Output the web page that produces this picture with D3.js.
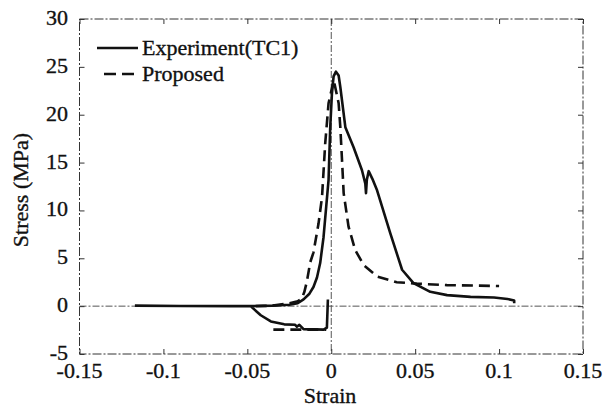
<!DOCTYPE html>
<html>
<head>
<meta charset="utf-8">
<script src="https://d3js.org/d3.v7.min.js"></script>
<style>
body { margin: 0; background: #fff; }
text { font-family: "Liberation Serif", "Times New Roman", serif; fill: #111; stroke: #111; stroke-width: 0.35px; }
</style>
</head>
<body>
<div id="chart"></div>
<script>
//Width and height
var width = 605;
var height = 409;

//Tick values
var xTicks = [-0.15, -0.1, -0.05, 0, 0.05, 0.1, 0.15];
var xTickLabels = ["-0.15", "-0.1", "-0.05", "0", "0.05", "0.1", "0.15"];
var yTicks = [-5, 0, 5, 10, 15, 20, 25, 30];

// Experiment(TC1) - null splits the loading branch from the negative branch
var expStrain = [-0.117, -0.09, -0.06, -0.048, -0.035, -0.025, -0.02, -0.0165, -0.013, -0.0106, -0.0085, -0.0066,
    -0.0046, -0.003, -0.0016, -0.0006, 0.0004, 0.0014, 0.0028, 0.0044, 0.0054, 0.0084, 0.0133, 0.0183,
    0.0203, 0.0207, 0.0212, 0.0223, 0.0245, 0.0273, 0.0352, 0.0422, 0.049, 0.059, 0.069, 0.083, 0.097,
    0.105, 0.109, 0.109,
    null,
    -0.048, -0.042, -0.036, -0.028, -0.0215, -0.0205, -0.019, -0.0165, -0.0046, -0.0026, -0.002];
var expStress = [0.05, 0.02, 0.0, 0.0, 0.05, 0.15, 0.3, 0.7, 1.3, 2.0, 3.0, 4.5,
    7.2, 10.4, 13.2, 18.7, 22.2, 24.0, 24.5, 24.1, 22.9, 18.7, 16.6, 14.2,
    12.8, 11.8, 13.2, 14.1, 13.3, 12.1, 7.6, 3.8, 2.4, 1.5, 1.15, 0.97, 0.9,
    0.75, 0.6, 0.3,
    null,
    0.0, -0.95, -1.6, -1.9, -1.95, -2.15, -1.95, -2.4, -2.45, -2.25, 0.7];

// Proposed model
var propStrain = [-0.045, -0.035, -0.025, -0.02, -0.0175, -0.016, -0.0145, -0.0125, -0.0106, -0.0076,
    -0.0055, -0.0036, -0.0016, 0.0015, 0.0044, 0.0054, 0.0064, 0.0074, 0.0103, 0.0143, 0.0193,
    0.0273, 0.039, 0.051, 0.069, 0.1,
    null,
    -0.0345, -0.003];
var propStress = [0.0, 0.05, 0.3, 0.5, 0.8, 1.5, 2.6, 4.6, 5.6, 8.6,
    11.4, 17.0, 21.2, 23.6, 21.2, 18.7, 15.3, 11.8, 8.3, 5.85, 4.3,
    3.1, 2.5, 2.35, 2.2, 2.1,
    null,
    -2.45, -2.45];

var legendNames = ["Experiment(TC1)", "Proposed"];

//Scales
var x = d3.scaleLinear().domain([-0.15, 0.15]).range([79.5, 583]);
var y = d3.scaleLinear().domain([-5, 30]).range([354, 19]);

var svg = d3.select("#chart")
    .append("svg")
    .attr("width", width)
    .attr("height", height);

function toPoints(xs, ys) {
    return xs.map(function (d, i) { return { x: d, y: ys[i] }; });
}

var line = d3.line()
    .defined(function (d) { return d.x != null && d.y != null; })
    .x(function (d) { return x(d.x); })
    .y(function (d) { return y(d.y); });

// zero lines (dash-dot, like the scan)
svg.append("line")
    .attr("x1", x(-0.15)).attr("x2", x(0.15))
    .attr("y1", y(0)).attr("y2", y(0))
    .attr("stroke", "#555").attr("stroke-width", 1)
    .attr("stroke-dasharray", "7,2,2,2");
svg.append("line")
    .attr("x1", x(0)).attr("x2", x(0))
    .attr("y1", y(30)).attr("y2", y(-5))
    .attr("stroke", "#555").attr("stroke-width", 1)
    .attr("stroke-dasharray", "7,2,2,2");

//Frame
svg.append("rect")
    .attr("x", x(-0.15)).attr("y", y(30))
    .attr("width", x(0.15) - x(-0.15))
    .attr("height", y(-5) - y(30))
    .attr("fill", "none")
    .attr("stroke", "#333").attr("stroke-width", 1)
    .attr("stroke-dasharray", "9,2,2,2");

//Axes, ticks point inward on all four sides
var tickLen = 5;
svg.append("g")
    .attr("transform", "translate(0," + y(-5) + ")")
    .call(d3.axisBottom(x).tickValues(xTicks).tickSize(-tickLen).tickFormat(""))
    .call(function (g) { g.select(".domain").remove(); });
svg.append("g")
    .attr("transform", "translate(0," + y(30) + ")")
    .call(d3.axisTop(x).tickValues(xTicks).tickSize(-tickLen).tickFormat(""))
    .call(function (g) { g.select(".domain").remove(); });
svg.append("g")
    .attr("transform", "translate(" + x(-0.15) + ",0)")
    .call(d3.axisLeft(y).tickValues(yTicks).tickSize(-tickLen).tickFormat(""))
    .call(function (g) { g.select(".domain").remove(); });
svg.append("g")
    .attr("transform", "translate(" + x(0.15) + ",0)")
    .call(d3.axisRight(y).tickValues(yTicks).tickSize(-tickLen).tickFormat(""))
    .call(function (g) { g.select(".domain").remove(); });
svg.selectAll(".tick line").attr("stroke", "#333");

//Tick labels
svg.selectAll(null)
    .data(xTicks)
    .enter()
    .append("text")
    .attr("x", function (d) { return x(d); })
    .attr("y", 378)
    .attr("text-anchor", "middle")
    .style("font-size", "22px")
    .text(function (d, i) { return xTickLabels[i]; });

svg.selectAll(null)
    .data(yTicks)
    .enter()
    .append("text")
    .attr("x", 68)
    .attr("y", function (d) { return y(d) + 6; })
    .attr("text-anchor", "end")
    .style("font-size", "22px")
    .text(function (d) { return d; });

//Axis titles
svg.append("text")
    .attr("x", 330).attr("y", 403)
    .attr("text-anchor", "middle")
    .style("font-size", "22px")
    .text("Strain");
svg.append("text")
    .attr("transform", "translate(28,190) rotate(-90)")
    .attr("text-anchor", "middle")
    .style("font-size", "22px")
    .text("Stress (MPa)");

//Curves
svg.append("path")
    .datum(toPoints(propStrain, propStress))
    .attr("d", line)
    .attr("fill", "none")
    .attr("stroke", "#111")
    .attr("stroke-width", 2.6)
    .attr("stroke-dasharray", "11,6");

svg.append("path")
    .datum(toPoints(expStrain, expStress))
    .attr("d", line)
    .attr("fill", "none")
    .attr("stroke", "#111")
    .attr("stroke-width", 2.6)
    .attr("stroke-linejoin", "round");

//Legend
var legend = svg.append("g");
legend.append("line")
    .attr("x1", 97).attr("x2", 138).attr("y1", 48).attr("y2", 48)
    .attr("stroke", "#111").attr("stroke-width", 2.6);
legend.append("line")
    .attr("x1", 104).attr("x2", 138).attr("y1", 74).attr("y2", 74)
    .attr("stroke", "#111").attr("stroke-width", 2.6)
    .attr("stroke-dasharray", "12,6");
legend.selectAll(null)
    .data(legendNames)
    .enter()
    .append("text")
    .attr("x", 142)
    .attr("y", function (d, i) { return 55 + i * 26; })
    .style("font-size", "22px")
    .text(function (d) { return d; });
</script>
</body>
</html>
